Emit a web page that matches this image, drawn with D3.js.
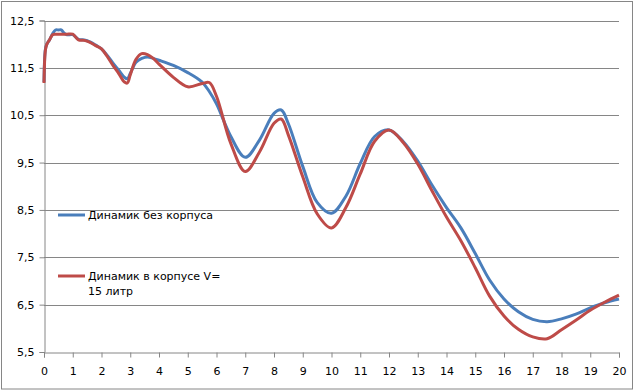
<!DOCTYPE html>
<html>
<head>
<meta charset="utf-8">
<script src="https://cdn.jsdelivr.net/npm/d3@7"></script>
<style>
  body { margin: 0; background: #fff; }
  svg { display: block; }
  text { font-family: "DejaVu Sans", Verdana, sans-serif; fill: #000; }
</style>
</head>
<body>
<div id="chart"></div>
<script>
// данные
const xValues = [0, 0.05, 0.1, 0.2, 0.3, 0.4, 0.5, 0.6, 0.7, 0.8, 1.0, 1.2, 1.4, 1.6, 1.8, 2.0,
  2.2, 2.4, 2.6, 2.8, 2.9, 3.0, 3.2, 3.4, 3.6, 3.8, 4.0, 4.5, 5.0, 5.5, 5.75, 6.0, 6.5, 7.0,
  7.5, 8.0, 8.25, 8.5, 9.0, 9.5, 10.0, 10.5, 11.0, 11.5, 12.0, 12.5, 13.0, 13.5, 14.0, 14.5,
  15.0, 15.5, 16.0, 16.5, 17.0, 17.5, 18.0, 18.5, 19.0, 19.5, 20.0];

const bareSpeaker = [11.2, 11.9, 12.0, 12.1, 12.22, 12.3, 12.3, 12.3, 12.23, 12.2, 12.2, 12.1, 12.09, 12.05, 11.98, 11.9,
  11.76, 11.6, 11.45, 11.3, 11.27, 11.38, 11.62, 11.7, 11.73, 11.7, 11.66, 11.55, 11.4, 11.2, 11.0, 10.74, 10.05, 9.61,
  9.98, 10.54, 10.61, 10.32, 9.42, 8.66, 8.43, 8.79, 9.48, 10.05, 10.19, 9.94, 9.53, 9.02, 8.55, 8.12,
  7.58, 7.02, 6.62, 6.35, 6.19, 6.14, 6.2, 6.3, 6.43, 6.54, 6.62];

const boxSpeaker = [11.18, 11.88, 12.0, 12.1, 12.2, 12.21, 12.21, 12.21, 12.21, 12.21, 12.21, 12.09, 12.08, 12.04, 11.97, 11.9,
  11.74, 11.55, 11.38, 11.2, 11.18, 11.35, 11.68, 11.8, 11.78, 11.7, 11.58, 11.3, 11.1, 11.17, 11.19, 10.9, 9.9, 9.31,
  9.73, 10.33, 10.42, 10.08, 9.2, 8.42, 8.12, 8.55, 9.26, 9.95, 10.19, 9.92, 9.47, 8.9, 8.35, 7.85,
  7.28, 6.68, 6.26, 5.98, 5.82, 5.78, 5.97, 6.17, 6.38, 6.55, 6.7];

const xTicks = d3.range(0, 21);
const yTicks = [5.5, 6.5, 7.5, 8.5, 9.5, 10.5, 11.5, 12.5];

const seriesNames = ["Динамик без корпуса", "Динамик в корпусе V=\n15 литр"];
const seriesColors = ["#4A7EBB", "#BE4B48"];

const W = 635, H = 391;
const margin = { top: 20.5, right: 16, bottom: 39, left: 44 };

const svg = d3.select("#chart").append("svg")
  .attr("width", W)
  .attr("height", H);

// рамка диаграммы
svg.append("rect")
  .attr("x", 1.5).attr("y", 1.5)
  .attr("width", 631).attr("height", 387.5)
  .attr("fill", "#fff")
  .attr("stroke", "#868686")
  .attr("stroke-width", 1);

const x = d3.scaleLinear().domain([0, 20]).range([margin.left, W - margin.right]);
const y = d3.scaleLinear().domain([5.5, 12.5]).range([H - margin.bottom, margin.top]);

const fmt = d3.formatLocale({ decimal: ",", thousands: " ", grouping: [3], currency: ["", ""] }).format(".1f");

// сетка
svg.append("g")
  .selectAll("line")
  .data(yTicks.slice(1))
  .enter()
  .append("line")
    .attr("x1", x(0)).attr("x2", x(20))
    .attr("y1", d => Math.round(y(d)) + 0.5)
    .attr("y2", d => Math.round(y(d)) + 0.5)
    .attr("stroke", "#868686");

// ось Y
const yAxis = svg.append("g")
  .attr("transform", "translate(" + (Math.round(x(0)) + 0.5) + ",0)")
  .call(d3.axisLeft(y).tickValues(yTicks).tickFormat(fmt).tickSize(5).tickPadding(5));

// ось X
const xAxis = svg.append("g")
  .attr("transform", "translate(0," + (Math.round(y(5.5)) + 0.5) + ")")
  .call(d3.axisBottom(x).tickValues(xTicks).tickFormat(d3.format("d")).tickSize(5).tickPadding(10));

[yAxis, xAxis].forEach(a => {
  a.selectAll("path, line").attr("stroke", "#868686");
  a.selectAll("text")
    .style("font-family", "'DejaVu Sans', Verdana, sans-serif")
    .style("font-size", "11px")
    .attr("fill", "#000");
});

// линии (сглаженные, как в Excel)
const line = d3.line()
  .x((d, i) => x(xValues[i]))
  .y(d => y(d))
  .curve(d3.curveCatmullRom.alpha(0.5));

[bareSpeaker, boxSpeaker].forEach((s, k) => {
  svg.append("path")
    .datum(s)
    .attr("d", line)
    .attr("fill", "none")
    .attr("stroke", seriesColors[k])
    .attr("stroke-width", 3)
    .attr("stroke-linejoin", "round");
});

// легенда
const legendY = [215, 276];
seriesNames.forEach((name, k) => {
  const g = svg.append("g");
  g.append("line")
    .attr("x1", 58).attr("x2", 85)
    .attr("y1", legendY[k]).attr("y2", legendY[k])
    .attr("stroke", seriesColors[k])
    .attr("stroke-width", 3);
  const t = g.append("text")
    .attr("x", 88)
    .attr("y", legendY[k] + 4)
    .style("font-size", "11px");
  name.split("\n").forEach((part, i) => {
    t.append("tspan")
      .attr("x", 88)
      .attr("dy", i === 0 ? 0 : 15)
      .text(part);
  });
});
</script>
</body>
</html>
